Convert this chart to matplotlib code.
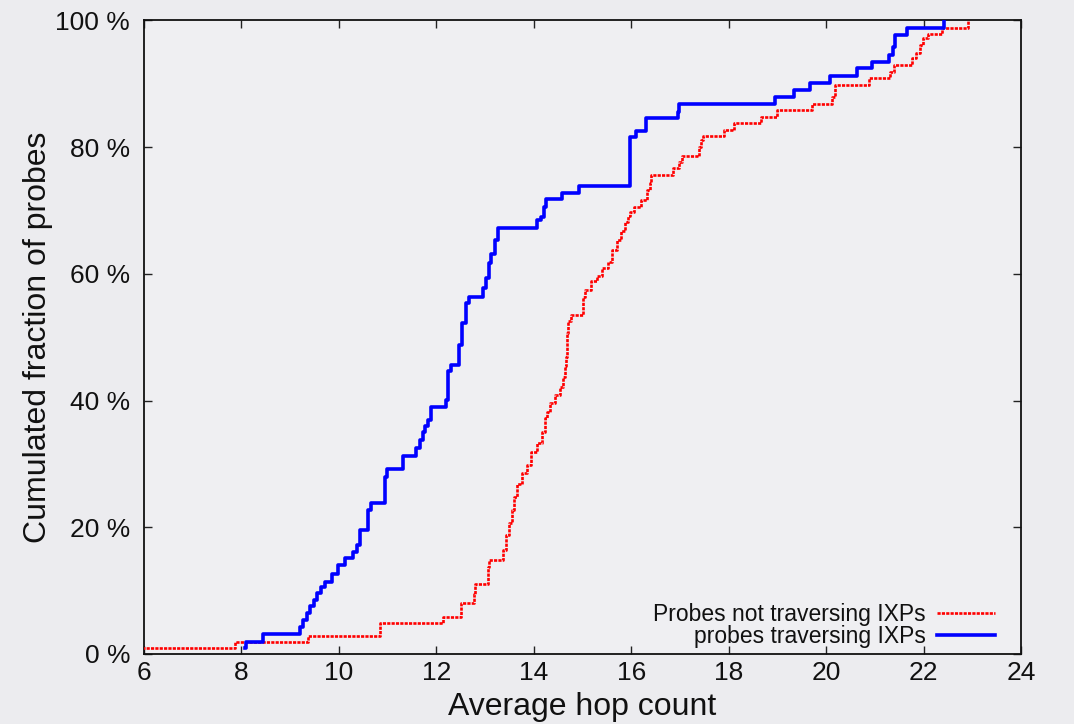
import matplotlib
matplotlib.use("Agg")
import matplotlib.pyplot as plt
from matplotlib.lines import Line2D

plt.rcParams['font.family'] = ['Liberation Sans', 'DejaVu Sans']

# Step CDF data: x where the level starts, cumulated fraction (%)
ixp_x = [8.08, 8.09, 8.45, 9.20, 9.27, 9.34, 9.41, 9.48, 9.55, 9.63, 9.71, 9.85, 9.99,
         10.12, 10.29, 10.38, 10.43, 10.60, 10.66, 10.94, 10.99, 11.32, 11.58, 11.66,
         11.72, 11.76, 11.82, 11.90, 12.20, 12.24, 12.30, 12.47, 12.53, 12.60, 12.66,
         12.96, 13.02, 13.07, 13.13, 13.20, 13.26, 14.06, 14.15, 14.20, 14.24, 14.58,
         14.92, 15.98, 16.10, 16.30, 16.95, 16.97, 18.95, 19.33, 19.67, 20.08, 20.64,
         20.94, 21.30, 21.38, 21.41, 21.66, 22.41]
ixp_y = [1.0, 1.9, 3.2, 4.3, 5.4, 6.4, 7.5, 8.5, 9.6, 10.5, 11.4, 12.7, 14.0,
         15.1, 16.1, 17.2, 19.6, 22.7, 23.9, 28.0, 29.2, 31.3, 32.5, 33.8,
         35.1, 36.0, 36.9, 39.0, 40.1, 44.6, 45.6, 48.8, 52.2, 55.4, 56.4,
         57.7, 59.3, 61.7, 63.2, 65.4, 67.2, 68.5, 69.0, 70.6, 71.8, 72.7,
         73.8, 81.6, 82.5, 84.6, 85.5, 86.8, 88.0, 89.0, 90.1, 91.3, 92.5,
         93.5, 94.6, 95.8, 97.7, 98.8, 100.0]

noixp_x = [5.5, 7.87, 9.37, 10.84, 12.14, 12.50, 12.77, 12.79, 13.05, 13.08, 13.36, 13.42,
           13.49, 13.56, 13.60, 13.65, 13.76, 13.86, 13.95, 14.06, 14.16, 14.22, 14.27,
           14.34, 14.43, 14.54, 14.59, 14.63, 14.66, 14.68, 14.69, 14.71, 14.76, 15.00,
           15.06, 15.18, 15.30, 15.40, 15.52, 15.60, 15.70, 15.78, 15.87, 15.93, 15.97,
           16.06, 16.20, 16.33, 16.39, 16.41, 16.85, 16.97, 17.04, 17.38, 17.43, 17.47,
           17.90, 18.11, 18.66, 19.00, 19.71, 20.12, 20.18, 20.88, 21.32, 21.40, 21.77,
           21.84, 21.93, 21.98, 22.08, 22.38, 22.92]
noixp_y = [0.9, 1.9, 2.8, 4.9, 5.9, 8.0, 9.5, 11.1, 13.8, 14.8, 16.4, 18.8,
           20.6, 22.7, 24.8, 26.9, 28.5, 29.8, 31.9, 33.3, 35.1, 37.2, 38.2,
           39.6, 40.9, 42.2, 43.8, 45.4, 46.9, 48.0, 50.6, 52.5, 53.5, 56.4,
           57.5, 58.8, 59.6, 60.9, 61.9, 63.8, 65.4, 66.7, 68.2, 69.1, 69.8,
           70.6, 71.7, 73.2, 74.3, 75.6, 76.7, 77.7, 78.6, 80.0, 81.1, 81.8,
           82.7, 83.8, 84.8, 85.8, 86.8, 88.0, 89.8, 90.9, 91.9, 92.9, 94.0,
           94.9, 96.1, 97.2, 97.9, 98.8, 100.0]

x_ticks = [6, 8, 10, 12, 14, 16, 18, 20, 22, 24]
y_ticks = [0, 20, 40, 60, 80, 100]
y_ticklabels = ["0 %", "20 %", "40 %", "60 %", "80 %", "100 %"]

label_noixp = "Probes not traversing IXPs"
label_ixp = "probes traversing IXPs"

red_style = dict(color='#ff0000', lw=1.9, linestyle=(0, (1.2, 0.45)))
blue_style = dict(color='#0000ff', lw=2.6)

bg = '#ececef'
fig = plt.figure(figsize=(10.74, 7.24), dpi=100, facecolor=bg)
ax = fig.add_axes([0.1341, 0.0967, 0.8166, 0.875])
ax.set_facecolor('#efeff2')

ax.step(noixp_x, noixp_y, where='post', label=label_noixp, zorder=3, **red_style)
ax.step(ixp_x, ixp_y, where='post', label=label_ixp, zorder=4, **blue_style)

ax.set_xlim(6, 24)
ax.set_ylim(0, 100)
ax.set_xticks(x_ticks)
ax.set_yticks(y_ticks)
ax.set_yticklabels(y_ticklabels)

ax.tick_params(axis='both', direction='in', length=6, width=1.0, color='#222222',
               labelsize=19, labelcolor='#111111', top=True, right=True)
ax.tick_params(axis='y', pad=10)
ax.tick_params(axis='x', pad=5)
for s in ax.spines.values():
    s.set_linewidth(1.3)
    s.set_color('#111111')

ax.set_xlabel("Average hop count", fontsize=23, color='#111111', labelpad=5)
ax.set_ylabel("Cumulated fraction of probes", fontsize=23, color='#111111', labelpad=2)

handles = [Line2D([], [], **red_style), Line2D([], [], **blue_style)]
leg = ax.legend(handles, [label_noixp, label_ixp], loc='lower right',
                bbox_to_anchor=(0.970, 0.010), markerfirst=False, frameon=False,
                fontsize=16.5, handlelength=2.5, handletextpad=0.5,
                labelspacing=-0.08, borderpad=0, borderaxespad=0)
for t in leg.get_texts():
    t.set_color('#111111')

fig.savefig("out.png", dpi=100, facecolor=bg)
